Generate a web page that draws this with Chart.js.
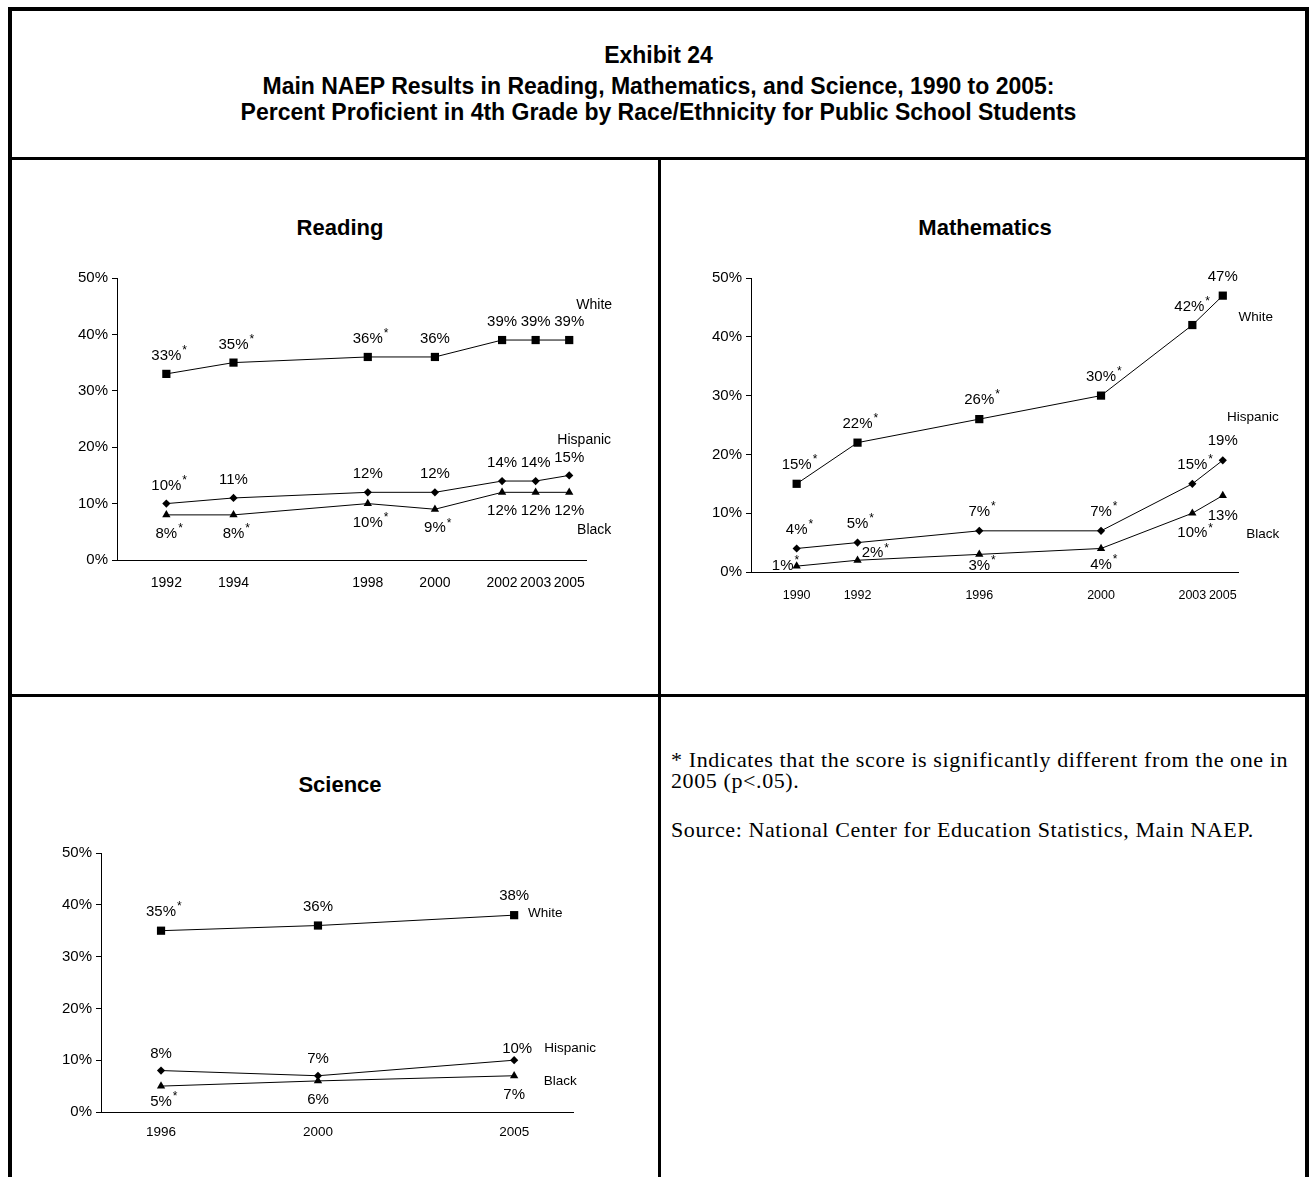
<!DOCTYPE html>
<html>
<head>
<meta charset="utf-8">
<title>Exhibit 24</title>
<script src="https://cdn.jsdelivr.net/npm/chart.js@4.4.1/dist/chart.umd.min.js"></script>
<style>
  body { margin: 0; background: #fff; font-family: "Liberation Sans", Arial, sans-serif; color: #000; }
  #page { position: relative; width: 1309px; height: 1177px; overflow: hidden; }
  .rule { position: absolute; background: #000; }
  .head { position: absolute; left: 8px; width: 1301px; text-align: center; font-weight: bold; font-size: 23px; line-height: 26px; }
  .title { position: absolute; width: 400px; text-align: center; font-weight: bold; font-size: 22px; line-height: 26px; }
  .note { position: absolute; left: 671px; top: 749px; width: 634px; font-family: "Liberation Serif", "Times New Roman", serif; font-size: 22px; letter-spacing: 0.6px; line-height: 21px; }
  .note p { margin: 0 0 28px 0; }
  canvas { position: absolute; }
</style>
</head>
<body>
<div id="page">
  <div class="rule" style="left:8px;top:7px;width:1301px;height:4px"></div>
  <div class="rule" style="left:8px;top:7px;width:4px;height:1170px"></div>
  <div class="rule" style="left:1305px;top:7px;width:4px;height:1170px"></div>
  <div class="rule" style="left:8px;top:157px;width:1301px;height:3px"></div>
  <div class="rule" style="left:658px;top:157px;width:3px;height:1020px"></div>
  <div class="rule" style="left:8px;top:694px;width:1301px;height:3px"></div>

  <div class="head" style="top:42px">Exhibit 24</div>
  <div class="head" style="top:73px">
    Main NAEP Results in Reading, Mathematics, and Science, 1990 to 2005:<br>
    Percent Proficient in 4th Grade by Race/Ethnicity for Public School Students
  </div>

  <div class="title" style="left:140px;top:215px">Reading</div>
  <div class="title" style="left:785px;top:215px">Mathematics</div>
  <div class="title" style="left:140px;top:772px">Science</div>

  <div class="note">
    <p>* Indicates that the score is significantly different from the one in 2005 (p&lt;.05).</p>
    <p>Source: National Center for Education Statistics, Main NAEP.</p>
  </div>

  <canvas id="readingChart"></canvas>
  <canvas id="mathChart"></canvas>
  <canvas id="scienceChart"></canvas>
</div>

<script>
// Reading (slots = category positions on the original axis, blanks are gaps)
const readingSlots = ['1992', '', '1994', '', '', '', '1998', '', '2000', '', '2002', '2003', '2005'];
const readingYears = ['1992', '1994', '1998', '2000', '2002', '2003', '2005'];
const readingWhite = [33, 35, 36, 36, 39, 39, 39];
const readingHispanic = [10, 11, 12, 12, 14, 14, 15];
const readingBlack = [8, 8, 10, 9, 12, 12, 12];
const readingWhiteSig = [1, 1, 1, 0, 0, 0, 0];
const readingHispanicSig = [1, 0, 0, 0, 0, 0, 0];
const readingBlackSig = [1, 1, 1, 1, 0, 0, 0];

// Mathematics
const mathSlots = ['1990', '', '1992', '', '', '', '1996', '', '', '', '2000', '', '', '2003', '2005'];
const mathYears = ['1990', '1992', '1996', '2000', '2003', '2005'];
const mathWhite = [15, 22, 26, 30, 42, 47];
const mathHispanic = [4, 5, 7, 7, 15, 19];
const mathBlack = [1, 2, 3, 4, 10, 13];
const mathWhiteSig = [1, 1, 1, 1, 1, 0];
const mathHispanicSig = [1, 1, 1, 1, 1, 0];
const mathBlackSig = [1, 1, 1, 1, 1, 0];

// Science
const scienceSlots = ['1996', '', '', '', '2000', '', '', '', '', '2005'];
const scienceYears = ['1996', '2000', '2005'];
const scienceWhite = [35, 36, 38];
const scienceHispanic = [8, 7, 10];
const scienceBlack = [5, 6, 7];
const scienceWhiteSig = [1, 0, 0];
const scienceHispanicSig = [0, 0, 0];
const scienceBlackSig = [1, 0, 0];

const yTicks = [0, 10, 20, 30, 40, 50];
const groupNames = ['White', 'Hispanic', 'Black'];

const FONT = '"Liberation Sans", Arial, sans-serif';
Chart.defaults.font.family = FONT;
Chart.defaults.color = '#000';

// draws "33%" with a raised asterisk next to each marker
const valueLabels = {
    id: 'valueLabels',
    afterDatasetsDraw(chart) {
        const ctx = chart.ctx;
        ctx.save();
        ctx.fillStyle = '#000';
        ctx.textBaseline = 'middle';
        chart.data.datasets.forEach((ds, i) => {
            const meta = chart.getDatasetMeta(i);
            meta.data.forEach((pt, j) => {
                const text = ds.data[j].y + '%';
                const shift = (ds.labelShift && ds.labelShift[j]) || [0, ds.labelDy];
                const x = pt.x + shift[0];
                const y = pt.y + shift[1];
                ctx.font = '15px ' + FONT;
                ctx.textAlign = 'center';
                ctx.fillText(text, x, y);
                if (ds.sig[j]) {
                    const w = ctx.measureText(text).width;
                    ctx.font = '12px ' + FONT;
                    ctx.textAlign = 'left';
                    ctx.fillText('*', x + w / 2 + 1, y - 5);
                }
            });
        });
        ctx.restore();
    }
};

// series names written beside the last point of each line
const seriesNames = {
    id: 'seriesNames',
    afterDatasetsDraw(chart, args, opts) {
        const ctx = chart.ctx;
        ctx.save();
        ctx.font = (opts.size || 14) + 'px ' + FONT;
        ctx.fillStyle = '#000';
        ctx.textAlign = 'center';
        ctx.textBaseline = 'middle';
        (opts.items || []).forEach((item, i) => {
            const meta = chart.getDatasetMeta(i);
            const last = meta.data[meta.data.length - 1];
            ctx.fillText(groupNames[i], last.x + item[0], last.y + item[1]);
        });
        ctx.restore();
    }
};

function series(slots, years, values, sig, style, labelDy, labelShift) {
    return {
        data: years.map((yr, i) => ({ x: slots.indexOf(yr), y: values[i] })),
        sig: sig,
        labelDy: labelDy,
        labelShift: labelShift || {},
        borderColor: '#000',
        backgroundColor: '#000',
        borderWidth: 1,
        pointStyle: style.shape,
        pointRadius: style.r,
        pointHoverRadius: style.r,
        pointBorderWidth: 0,
        tension: 0
    };
}

const SQUARE = { shape: 'rect', r: 5.8 };
const DIAMOND = { shape: 'rectRot', r: 4.1 };
const TRIANGLE = { shape: 'triangle', r: 4.8 };

// area = wanted chart area on the page; canvas gets margins around it
function createChart(id, area, slots, years, datasets, opts) {
    const m = { l: 90, t: 40, r: 90, b: 50 };
    const canvas = document.getElementById(id);
    const w = area.right - area.left + m.l + m.r;
    const h = area.bottom - area.top + m.t + m.b;
    canvas.width = w;
    canvas.height = h;
    canvas.style.left = (area.left - m.l) + 'px';
    canvas.style.top = (area.top - m.t) + 'px';

    return new Chart(canvas.getContext('2d'), {
        type: 'line',
        data: { datasets: datasets },
        options: {
            responsive: false,
            animation: false,
            devicePixelRatio: 1,
            layout: { padding: { left: 0, top: m.t, right: m.r, bottom: 0 } },
            plugins: {
                legend: { display: false },
                tooltip: { enabled: false },
                seriesNames: { items: opts.names, size: opts.nameSize }
            },
            scales: {
                x: {
                    type: 'linear',
                    min: opts.xMin,
                    max: opts.xMax,
                    afterBuildTicks: (axis) => {
                        axis.ticks = years.map(yr => ({ value: slots.indexOf(yr) }));
                    },
                    afterFit: (axis) => { axis.height = m.b; },
                    grid: { display: false, drawTicks: false },
                    border: { display: true, color: '#000', width: 1 },
                    ticks: {
                        autoSkip: false,
                        maxRotation: 0,
                        padding: opts.xPad,
                        font: { size: opts.xFont },
                        callback: (v) => slots[v]
                    }
                },
                y: {
                    min: 0,
                    max: 50,
                    afterBuildTicks: (axis) => {
                        axis.ticks = yTicks.map(v => ({ value: v }));
                    },
                    afterFit: (axis) => { axis.width = m.l; },
                    grid: { display: true, drawOnChartArea: false, drawTicks: true, tickLength: 5, color: '#000' },
                    border: { display: true, color: '#000', width: 1 },
                    ticks: {
                        padding: 4,
                        font: { size: 15 },
                        callback: (v) => v + '%'
                    }
                }
            }
        },
        plugins: [valueLabels, seriesNames]
    });
}

createChart('readingChart', { left: 117, right: 586, top: 278, bottom: 560 }, readingSlots, readingYears, [
    series(readingSlots, readingYears, readingWhite, readingWhiteSig, SQUARE, -18),
    series(readingSlots, readingYears, readingHispanic, readingHispanicSig, DIAMOND, -18),
    series(readingSlots, readingYears, readingBlack, readingBlackSig, TRIANGLE, 19)
], {
    xMin: -1.47, xMax: 12.5, xPad: 15, xFont: 14, nameSize: 14,
    names: [[25, -35], [15, -35], [25, 38]]
});

createChart('mathChart', { left: 751, right: 1238, top: 278, bottom: 572 }, mathSlots, mathYears, [
    series(mathSlots, mathYears, mathWhite, mathWhiteSig, SQUARE, -19, { 4: [-3, -18] }),
    series(mathSlots, mathYears, mathHispanic, mathHispanicSig, DIAMOND, -19),
    series(mathSlots, mathYears, mathBlack, mathBlackSig, TRIANGLE, 20, {
        0: [-14, 0], 1: [15, -7], 2: [0, 11], 3: [0, 16]
    })
], {
    xMin: -1.5, xMax: 14.5, xPad: 16, xFont: 12.5, nameSize: 13.5,
    names: [[33, 22], [30, -43], [40, 39]]
});

createChart('scienceChart', { left: 101, right: 573, top: 853, bottom: 1112 }, scienceSlots, scienceYears, [
    series(scienceSlots, scienceYears, scienceWhite, scienceWhiteSig, SQUARE, -19),
    series(scienceSlots, scienceYears, scienceHispanic, scienceHispanicSig, DIAMOND, -17, { 2: [3, -11] }),
    series(scienceSlots, scienceYears, scienceBlack, scienceBlackSig, TRIANGLE, 19, { 0: [0, 16] })
], {
    xMin: -1.53, xMax: 10.5, xPad: 12, xFont: 13.5, nameSize: 13.5,
    names: [[31, -2], [56, -12], [46, 6]]
});
</script>
</body>
</html>
